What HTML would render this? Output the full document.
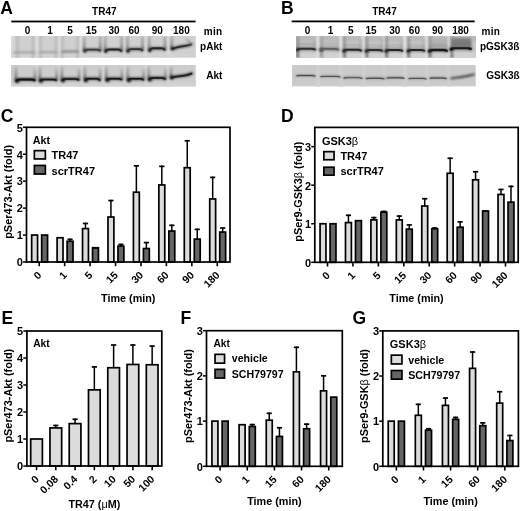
<!DOCTYPE html>
<html><head><meta charset="utf-8"><style>
html,body{margin:0;padding:0;background:#fff;}
svg{display:block;will-change:transform;}
text{font-family:"Liberation Sans", sans-serif;fill:#000;}
</style></head><body>
<svg width="520" height="511" viewBox="0 0 520 511">
<defs>
<filter id="b1" filterUnits="userSpaceOnUse" x="0" y="0" width="520" height="120"><feGaussianBlur stdDeviation="0.85"/></filter>
<filter id="b2" filterUnits="userSpaceOnUse" x="0" y="0" width="520" height="120"><feGaussianBlur stdDeviation="1.2"/></filter>
<linearGradient id="gw0" x1="0" y1="0" x2="0" y2="1"><stop offset="0" stop-color="#b4b4b4"/><stop offset="1" stop-color="#b4b4b4"/></linearGradient>
<linearGradient id="gw1" x1="0" y1="0" x2="0" y2="1"><stop offset="0" stop-color="#a8a8a8"/><stop offset="0.6" stop-color="#8a8a8a"/><stop offset="1" stop-color="#404040"/></linearGradient>
<linearGradient id="gw2" x1="0" y1="0" x2="0" y2="1"><stop offset="0" stop-color="#b8b8b8"/><stop offset="0.6" stop-color="#808080"/><stop offset="1" stop-color="#2a2a2a"/></linearGradient>
<linearGradient id="gw3" x1="0" y1="0" x2="0" y2="1"><stop offset="0" stop-color="#909090"/><stop offset="0.7" stop-color="#808080"/><stop offset="1" stop-color="#404040"/></linearGradient>
</defs>
<rect width="520" height="511" fill="#fff"/>
<text x="0.20" y="13.50" font-size="17.5" text-anchor="start" font-weight="bold" >A</text>
<text x="281.00" y="13.60" font-size="17.5" text-anchor="start" font-weight="bold" >B</text>
<text x="0.80" y="122.40" font-size="17.5" text-anchor="start" font-weight="bold" >C</text>
<text x="281.00" y="122.30" font-size="17.5" text-anchor="start" font-weight="bold" >D</text>
<text x="1.60" y="323.80" font-size="17.5" text-anchor="start" font-weight="bold" >E</text>
<text x="180.40" y="323.80" font-size="17.5" text-anchor="start" font-weight="bold" >F</text>
<text x="352.40" y="324.20" font-size="17.5" text-anchor="start" font-weight="bold" >G</text>
<rect x="11.3" y="20.6" width="184.3" height="1.8" fill="#000"/>
<text x="104.30" y="15.10" font-size="10" text-anchor="middle" font-weight="bold" >TR47</text>
<text x="27.60" y="34.30" font-size="10" text-anchor="middle" font-weight="bold" >0</text>
<text x="50.00" y="34.30" font-size="10" text-anchor="middle" font-weight="bold" >1</text>
<text x="70.00" y="34.30" font-size="10" text-anchor="middle" font-weight="bold" >5</text>
<text x="91.30" y="34.30" font-size="10" text-anchor="middle" font-weight="bold" >15</text>
<text x="114.00" y="34.30" font-size="10" text-anchor="middle" font-weight="bold" >30</text>
<text x="134.00" y="34.30" font-size="10" text-anchor="middle" font-weight="bold" >60</text>
<text x="157.20" y="34.30" font-size="10" text-anchor="middle" font-weight="bold" >90</text>
<text x="181.40" y="34.30" font-size="10" text-anchor="middle" font-weight="bold" >180</text>
<text x="203.80" y="34.90" font-size="10" text-anchor="start" font-weight="bold" letter-spacing="0.3">min</text>
<text x="222.30" y="49.70" font-size="10" text-anchor="end" font-weight="bold" >pAkt</text>
<text x="222.30" y="78.70" font-size="10" text-anchor="end" font-weight="bold" >Akt</text>
<rect x="291.7" y="20.5" width="183" height="1.8" fill="#000"/>
<text x="384.50" y="15.10" font-size="10" text-anchor="middle" font-weight="bold" >TR47</text>
<text x="307.50" y="34.20" font-size="10" text-anchor="middle" font-weight="bold" >0</text>
<text x="330.60" y="34.20" font-size="10" text-anchor="middle" font-weight="bold" >1</text>
<text x="350.80" y="34.20" font-size="10" text-anchor="middle" font-weight="bold" >5</text>
<text x="371.00" y="34.20" font-size="10" text-anchor="middle" font-weight="bold" >15</text>
<text x="394.80" y="34.20" font-size="10" text-anchor="middle" font-weight="bold" >30</text>
<text x="414.40" y="34.20" font-size="10" text-anchor="middle" font-weight="bold" >60</text>
<text x="437.50" y="34.20" font-size="10" text-anchor="middle" font-weight="bold" >90</text>
<text x="460.50" y="34.20" font-size="10" text-anchor="middle" font-weight="bold" >180</text>
<text x="481.60" y="34.60" font-size="10" text-anchor="start" font-weight="bold" letter-spacing="0.3">min</text>
<text x="479.90" y="50.20" font-size="10" text-anchor="start" font-weight="bold" >pGSK3&#223;</text>
<text x="486.30" y="79.00" font-size="10" text-anchor="start" font-weight="bold" >GSK3&#223;</text>
<svg x="11.3" y="36" width="184.70" height="21.6" overflow="hidden"><g transform="translate(-11.3,-36)">
<rect x="11.30" y="36.00" width="184.70" height="21.60" fill="#d0d0d0" />
<rect x="9.30" y="34.00" width="4.80" height="26.00" fill="#dadada" filter="url(#b1)" opacity="1.0"/>
<rect x="35.30" y="34.00" width="3.70" height="26.00" fill="#dedede" filter="url(#b1)" opacity="1.0"/>
<rect x="57.60" y="34.00" width="3.40" height="26.00" fill="#dedede" filter="url(#b1)" opacity="1.0"/>
<rect x="79.20" y="34.00" width="4.10" height="26.00" fill="#dedede" filter="url(#b1)" opacity="1.0"/>
<rect x="101.30" y="34.00" width="3.70" height="26.00" fill="#dedede" filter="url(#b1)" opacity="1.0"/>
<rect x="123.50" y="34.00" width="3.30" height="26.00" fill="#dedede" filter="url(#b1)" opacity="1.0"/>
<rect x="143.40" y="34.00" width="4.20" height="26.00" fill="#dedede" filter="url(#b1)" opacity="1.0"/>
<rect x="166.50" y="34.00" width="4.00" height="26.00" fill="#dedede" filter="url(#b1)" opacity="1.0"/>
<rect x="11.30" y="53.50" width="184.70" height="3.50" fill="#d4d4d4" filter="url(#b2)" opacity="0.7"/>
<rect x="16.50" y="34.00" width="2.00" height="26.00" fill="url(#gw0)" filter="url(#b2)" opacity="1.0"/>
<rect x="32.00" y="34.00" width="2.00" height="26.00" fill="url(#gw0)" filter="url(#b2)" opacity="1.0"/>
<rect x="39.50" y="34.00" width="2.00" height="26.00" fill="url(#gw0)" filter="url(#b2)" opacity="1.0"/>
<rect x="55.00" y="34.00" width="2.00" height="26.00" fill="url(#gw0)" filter="url(#b2)" opacity="1.0"/>
<rect x="61.50" y="34.00" width="2.00" height="26.00" fill="url(#gw0)" filter="url(#b2)" opacity="1.0"/>
<rect x="76.50" y="34.00" width="2.00" height="26.00" fill="url(#gw0)" filter="url(#b2)" opacity="1.0"/>
<path d="M14.00,52.60 C15.26,52.40 16.10,52.40 18.20,52.40 L30.80,52.40 C32.90,52.40 33.74,52.40 35.00,52.60" fill="none" stroke="#989898" stroke-width="1.8" stroke-linecap="round" filter="url(#b1)" opacity="1.0"/>
<path d="M39.50,52.40 C40.55,52.20 41.25,52.20 43.00,52.20 L53.50,52.20 C55.25,52.20 55.95,52.20 57.00,52.40" fill="none" stroke="#9c9c9c" stroke-width="1.8" stroke-linecap="round" filter="url(#b1)" opacity="1.0"/>
<path d="M62.00,51.80 C62.96,51.40 63.60,51.40 65.20,51.40 L74.80,51.40 C76.40,51.40 77.04,51.40 78.00,51.60" fill="none" stroke="#808080" stroke-width="2.0" stroke-linecap="round" filter="url(#b1)" opacity="1.0"/>
<rect x="83.10" y="36.00" width="2.20" height="15.00" fill="url(#gw1)" filter="url(#b1)" opacity="1.0"/>
<rect x="99.30" y="36.00" width="2.20" height="14.60" fill="url(#gw1)" filter="url(#b1)" opacity="1.0"/>
<path d="M84.60,51.00 C85.52,49.70 86.14,49.70 87.68,49.70 L96.92,49.70 C98.46,49.70 99.08,49.70 100.00,50.60" fill="none" stroke="#606060" stroke-width="3.0999999999999996" stroke-linecap="round" filter="url(#b1)" opacity="0.9"/>
<circle cx="84.90" cy="50.80" r="1.5" fill="#202020" filter="url(#b1)"/>
<path d="M84.60,51.00 C85.52,49.70 86.14,49.70 87.68,49.70 L96.92,49.70 C98.46,49.70 99.08,49.70 100.00,50.60" fill="none" stroke="#3c3c3c" stroke-width="1.805" stroke-linecap="round"  opacity="1.0"/>
<rect x="104.10" y="36.00" width="2.20" height="15.30" fill="url(#gw1)" filter="url(#b1)" opacity="1.0"/>
<rect x="120.50" y="36.00" width="2.20" height="15.00" fill="url(#gw1)" filter="url(#b1)" opacity="1.0"/>
<path d="M105.60,51.30 C106.54,49.50 107.16,49.50 108.72,49.50 L118.08,49.50 C119.64,49.50 120.26,49.50 121.20,51.00" fill="none" stroke="#606060" stroke-width="3.2" stroke-linecap="round" filter="url(#b1)" opacity="0.9"/>
<circle cx="105.90" cy="51.10" r="1.5" fill="#202020" filter="url(#b1)"/>
<path d="M105.60,51.30 C106.54,49.50 107.16,49.50 108.72,49.50 L118.08,49.50 C119.64,49.50 120.26,49.50 121.20,51.00" fill="none" stroke="#262626" stroke-width="1.9" stroke-linecap="round"  opacity="1.0"/>
<rect x="126.30" y="36.00" width="2.20" height="15.20" fill="url(#gw1)" filter="url(#b1)" opacity="1.0"/>
<rect x="141.50" y="36.00" width="2.20" height="14.20" fill="url(#gw1)" filter="url(#b1)" opacity="1.0"/>
<path d="M127.80,51.20 C128.66,49.10 129.24,49.10 130.68,49.10 L139.32,49.10 C140.76,49.10 141.34,49.10 142.20,50.20" fill="none" stroke="#606060" stroke-width="3.2" stroke-linecap="round" filter="url(#b1)" opacity="0.9"/>
<circle cx="128.10" cy="51.00" r="1.5" fill="#202020" filter="url(#b1)"/>
<path d="M127.80,51.20 C128.66,49.10 129.24,49.10 130.68,49.10 L139.32,49.10 C140.76,49.10 141.34,49.10 142.20,50.20" fill="none" stroke="#303030" stroke-width="1.9" stroke-linecap="round"  opacity="1.0"/>
<rect x="148.10" y="36.00" width="2.20" height="14.40" fill="url(#gw1)" filter="url(#b1)" opacity="1.0"/>
<rect x="163.90" y="36.00" width="2.20" height="13.60" fill="url(#gw1)" filter="url(#b1)" opacity="1.0"/>
<path d="M149.60,50.40 C150.50,48.30 151.10,48.30 152.60,48.30 L161.60,48.30 C163.10,48.30 163.70,48.30 164.60,49.60" fill="none" stroke="#606060" stroke-width="3.2" stroke-linecap="round" filter="url(#b1)" opacity="0.9"/>
<circle cx="149.90" cy="50.20" r="1.5" fill="#202020" filter="url(#b1)"/>
<path d="M149.60,50.40 C150.50,48.30 151.10,48.30 152.60,48.30 L161.60,48.30 C163.10,48.30 163.70,48.30 164.60,49.60" fill="none" stroke="#262626" stroke-width="1.9" stroke-linecap="round"  opacity="1.0"/>
<rect x="170.40" y="36.00" width="2.40" height="13.00" fill="url(#gw1)" filter="url(#b1)" opacity="1.0"/>
<path d="M172.2,48.8 C176,47.6 180,46.6 184.5,46.0 S189,45.2 191.2,44.3" fill="none" stroke="#505050" stroke-width="2.8" stroke-linecap="round" filter="url(#b1)"/>
<path d="M172.2,48.8 C176,47.6 180,46.6 184.5,46.0 S189,45.2 191.2,44.3" fill="none" stroke="#262626" stroke-width="1.6" stroke-linecap="round"/>
<circle cx="172.6" cy="48.6" r="1.6" fill="#202020" filter="url(#b1)"/>
<path d="M186.5,39.0 L191.0,44.0" fill="none" stroke="#8a8a8a" stroke-width="1.4" filter="url(#b1)"/>
</g></svg>
<svg x="11.3" y="64.8" width="184.70" height="21.4" overflow="hidden"><g transform="translate(-11.3,-64.8)">
<rect x="11.30" y="64.80" width="184.70" height="21.40" fill="#cdcdcd" />
<rect x="35.30" y="62.00" width="3.70" height="28.00" fill="#d8d8d8" filter="url(#b1)" opacity="1.0"/>
<rect x="57.60" y="62.00" width="3.40" height="28.00" fill="#d8d8d8" filter="url(#b1)" opacity="1.0"/>
<rect x="79.20" y="62.00" width="4.10" height="28.00" fill="#d8d8d8" filter="url(#b1)" opacity="1.0"/>
<rect x="101.30" y="62.00" width="3.70" height="28.00" fill="#d8d8d8" filter="url(#b1)" opacity="1.0"/>
<rect x="123.50" y="62.00" width="3.30" height="28.00" fill="#d8d8d8" filter="url(#b1)" opacity="1.0"/>
<rect x="143.40" y="62.00" width="4.20" height="28.00" fill="#d8d8d8" filter="url(#b1)" opacity="1.0"/>
<rect x="166.50" y="62.00" width="4.00" height="28.00" fill="#d8d8d8" filter="url(#b1)" opacity="1.0"/>
<rect x="11.30" y="82.00" width="184.70" height="4.50" fill="#d2d2d2" filter="url(#b2)" opacity="0.8"/>
<rect x="14.90" y="66.00" width="2.20" height="14.80" fill="url(#gw2)" filter="url(#b1)" opacity="1.0"/>
<rect x="34.00" y="68.00" width="2.00" height="12.20" fill="url(#gw2)" filter="url(#b1)" opacity="1.0"/>
<path d="M16.50,80.80 C17.58,79.40 18.30,79.40 20.10,79.40 L30.90,79.40 C32.70,79.40 33.42,79.40 34.50,80.20" fill="none" stroke="#555555" stroke-width="3.4000000000000004" stroke-linecap="round" filter="url(#b1)" opacity="0.95"/>
<circle cx="17.40" cy="81.00" r="1.9" fill="#101010" filter="url(#b1)"/>
<path d="M16.50,80.80 C17.58,79.40 18.30,79.40 20.10,79.40 L30.90,79.40 C32.70,79.40 33.42,79.40 34.50,80.20" fill="none" stroke="#101010" stroke-width="2.2" stroke-linecap="round"  opacity="1.0"/>
<rect x="38.70" y="66.00" width="2.20" height="14.60" fill="url(#gw2)" filter="url(#b1)" opacity="1.0"/>
<rect x="55.70" y="68.00" width="2.00" height="12.00" fill="url(#gw2)" filter="url(#b1)" opacity="1.0"/>
<path d="M40.30,80.60 C41.25,79.40 41.89,79.40 43.48,79.40 L53.02,79.40 C54.61,79.40 55.25,79.40 56.20,80.00" fill="none" stroke="#555555" stroke-width="3.0" stroke-linecap="round" filter="url(#b1)" opacity="0.95"/>
<circle cx="41.20" cy="80.80" r="1.9" fill="#101010" filter="url(#b1)"/>
<path d="M40.30,80.60 C41.25,79.40 41.89,79.40 43.48,79.40 L53.02,79.40 C54.61,79.40 55.25,79.40 56.20,80.00" fill="none" stroke="#101010" stroke-width="1.8" stroke-linecap="round"  opacity="1.0"/>
<rect x="60.70" y="66.00" width="2.20" height="14.20" fill="url(#gw2)" filter="url(#b1)" opacity="1.0"/>
<rect x="78.10" y="68.00" width="2.00" height="11.80" fill="url(#gw2)" filter="url(#b1)" opacity="1.0"/>
<path d="M62.30,80.20 C63.28,78.90 63.93,78.90 65.56,78.90 L75.34,78.90 C76.97,78.90 77.62,78.90 78.60,79.80" fill="none" stroke="#555555" stroke-width="3.0" stroke-linecap="round" filter="url(#b1)" opacity="0.95"/>
<circle cx="63.20" cy="80.40" r="1.9" fill="#101010" filter="url(#b1)"/>
<path d="M62.30,80.20 C63.28,78.90 63.93,78.90 65.56,78.90 L75.34,78.90 C76.97,78.90 77.62,78.90 78.60,79.80" fill="none" stroke="#101010" stroke-width="1.8" stroke-linecap="round"  opacity="1.0"/>
<rect x="83.70" y="66.00" width="2.20" height="14.00" fill="url(#gw2)" filter="url(#b1)" opacity="1.0"/>
<rect x="99.10" y="68.00" width="2.00" height="12.00" fill="url(#gw2)" filter="url(#b1)" opacity="1.0"/>
<path d="M85.30,80.00 C86.16,78.60 86.73,78.60 88.16,78.60 L96.74,78.60 C98.17,78.60 98.74,78.60 99.60,80.00" fill="none" stroke="#555555" stroke-width="3.0" stroke-linecap="round" filter="url(#b1)" opacity="0.95"/>
<circle cx="86.20" cy="80.20" r="1.9" fill="#101010" filter="url(#b1)"/>
<path d="M85.30,80.00 C86.16,78.60 86.73,78.60 88.16,78.60 L96.74,78.60 C98.17,78.60 98.74,78.60 99.60,80.00" fill="none" stroke="#101010" stroke-width="1.8" stroke-linecap="round"  opacity="1.0"/>
<rect x="105.20" y="66.00" width="2.20" height="13.90" fill="url(#gw2)" filter="url(#b1)" opacity="1.0"/>
<rect x="120.90" y="68.00" width="2.00" height="11.40" fill="url(#gw2)" filter="url(#b1)" opacity="1.0"/>
<path d="M106.80,79.90 C107.68,78.60 108.26,78.60 109.72,78.60 L118.48,78.60 C119.94,78.60 120.52,78.60 121.40,79.40" fill="none" stroke="#555555" stroke-width="3.0" stroke-linecap="round" filter="url(#b1)" opacity="0.95"/>
<circle cx="107.70" cy="80.10" r="1.9" fill="#101010" filter="url(#b1)"/>
<path d="M106.80,79.90 C107.68,78.60 108.26,78.60 109.72,78.60 L118.48,78.60 C119.94,78.60 120.52,78.60 121.40,79.40" fill="none" stroke="#101010" stroke-width="1.8" stroke-linecap="round"  opacity="1.0"/>
<rect x="126.60" y="66.00" width="2.20" height="14.00" fill="url(#gw2)" filter="url(#b1)" opacity="1.0"/>
<rect x="142.70" y="68.00" width="2.00" height="11.60" fill="url(#gw2)" filter="url(#b1)" opacity="1.0"/>
<path d="M128.20,80.00 C129.10,78.70 129.70,78.70 131.20,78.70 L140.20,78.70 C141.70,78.70 142.30,78.70 143.20,79.60" fill="none" stroke="#555555" stroke-width="3.0" stroke-linecap="round" filter="url(#b1)" opacity="0.95"/>
<circle cx="129.10" cy="80.20" r="1.9" fill="#101010" filter="url(#b1)"/>
<path d="M128.20,80.00 C129.10,78.70 129.70,78.70 131.20,78.70 L140.20,78.70 C141.70,78.70 142.30,78.70 143.20,79.60" fill="none" stroke="#101010" stroke-width="1.8" stroke-linecap="round"  opacity="1.0"/>
<rect x="147.60" y="66.00" width="2.20" height="13.30" fill="url(#gw2)" filter="url(#b1)" opacity="1.0"/>
<rect x="164.50" y="68.00" width="2.00" height="10.90" fill="url(#gw2)" filter="url(#b1)" opacity="1.0"/>
<path d="M149.20,79.30 C150.15,77.90 150.78,77.90 152.36,77.90 L161.84,77.90 C163.42,77.90 164.05,77.90 165.00,78.90" fill="none" stroke="#555555" stroke-width="3.0" stroke-linecap="round" filter="url(#b1)" opacity="0.95"/>
<circle cx="150.10" cy="79.50" r="1.9" fill="#101010" filter="url(#b1)"/>
<path d="M149.20,79.30 C150.15,77.90 150.78,77.90 152.36,77.90 L161.84,77.90 C163.42,77.90 164.05,77.90 165.00,78.90" fill="none" stroke="#101010" stroke-width="1.8" stroke-linecap="round"  opacity="1.0"/>
<rect x="169.90" y="66.00" width="2.20" height="11.50" fill="url(#gw2)" filter="url(#b1)" opacity="1.0"/>
<path d="M171.2,77.6 C176,76.4 181,76.0 185,75.4 S189.5,74.2 191.6,73.4" fill="none" stroke="#555" stroke-width="3.0" stroke-linecap="round" filter="url(#b1)"/>
<path d="M171.2,77.6 C176,76.4 181,76.0 185,75.4 S189.5,74.2 191.6,73.4" fill="none" stroke="#181818" stroke-width="1.8" stroke-linecap="round"/>
<circle cx="171.8" cy="77.6" r="1.7" fill="#141414" filter="url(#b1)"/>
</g></svg>
<svg x="295.8" y="36" width="180.00" height="21.6" overflow="hidden"><g transform="translate(-295.8,-36)">
<rect x="295.80" y="36.00" width="180.00" height="21.60" fill="#c8c8c8" />
<rect x="295.80" y="35.00" width="180.00" height="6.50" fill="#bababa" filter="url(#b2)" opacity="1.0"/>
<rect x="295.80" y="52.50" width="180.00" height="7.00" fill="#d2d2d2" filter="url(#b2)" opacity="1.0"/>
<rect x="316.20" y="34.00" width="3.70" height="26.00" fill="#e2e2e2" filter="url(#b1)" opacity="1.0"/>
<rect x="339.10" y="34.00" width="3.70" height="26.00" fill="#e2e2e2" filter="url(#b1)" opacity="1.0"/>
<rect x="362.00" y="34.00" width="3.00" height="26.00" fill="#e2e2e2" filter="url(#b1)" opacity="1.0"/>
<rect x="383.20" y="34.00" width="1.80" height="26.00" fill="#e2e2e2" filter="url(#b1)" opacity="1.0"/>
<rect x="403.00" y="34.00" width="4.00" height="26.00" fill="#e2e2e2" filter="url(#b1)" opacity="1.0"/>
<rect x="425.00" y="34.00" width="3.30" height="26.00" fill="#e2e2e2" filter="url(#b1)" opacity="1.0"/>
<rect x="447.60" y="34.00" width="2.40" height="26.00" fill="#e2e2e2" filter="url(#b1)" opacity="1.0"/>
<path d="M297.50,44.40 C298.52,44.20 299.20,44.20 300.90,44.20 L311.10,44.20 C312.80,44.20 313.48,44.20 314.50,44.40" fill="none" stroke="#909090" stroke-width="1.6" stroke-linecap="round" filter="url(#b1)" opacity="0.9"/>
<rect x="296.50" y="36.00" width="2.40" height="21.50" fill="url(#gw3)" filter="url(#b1)" opacity="0.9"/>
<rect x="313.90" y="40.00" width="1.60" height="9.20" fill="url(#gw3)" filter="url(#b1)" opacity="0.5"/>
<path d="M297.00,50.00 C298.08,48.70 298.80,48.70 300.60,48.70 L311.40,48.70 C313.20,48.70 313.92,48.70 315.00,49.50" fill="none" stroke="#707070" stroke-width="3.6" stroke-linecap="round" filter="url(#b1)" opacity="0.8"/>
<circle cx="297.70" cy="49.60" r="1.7" fill="#1c1c1c" filter="url(#b1)"/>
<path d="M297.00,50.00 C298.08,48.70 298.80,48.70 300.60,48.70 L311.40,48.70 C313.20,48.70 313.92,48.70 315.00,49.50" fill="none" stroke="#303030" stroke-width="1.9800000000000002" stroke-linecap="round"  opacity="1.0"/>
<path d="M321.20,44.50 C322.18,44.30 322.84,44.30 324.48,44.30 L334.32,44.30 C335.96,44.30 336.62,44.30 337.60,44.50" fill="none" stroke="#a0a0a0" stroke-width="1.6" stroke-linecap="round" filter="url(#b1)" opacity="0.9"/>
<rect x="320.20" y="36.00" width="2.40" height="21.50" fill="url(#gw3)" filter="url(#b1)" opacity="0.63"/>
<rect x="337.00" y="40.00" width="1.60" height="9.30" fill="url(#gw3)" filter="url(#b1)" opacity="0.35"/>
<path d="M320.70,50.10 C321.74,48.80 322.44,48.80 324.18,48.80 L334.62,48.80 C336.36,48.80 337.06,48.80 338.10,49.60" fill="none" stroke="#707070" stroke-width="3.4" stroke-linecap="round" filter="url(#b1)" opacity="0.8"/>
<circle cx="321.40" cy="49.70" r="1.7" fill="#1c1c1c" filter="url(#b1)"/>
<path d="M320.70,50.10 C321.74,48.80 322.44,48.80 324.18,48.80 L334.62,48.80 C336.36,48.80 337.06,48.80 338.10,49.60" fill="none" stroke="#606060" stroke-width="1.8" stroke-linecap="round"  opacity="1.0"/>
<path d="M344.20,45.50 C345.18,45.30 345.84,45.30 347.48,45.30 L357.32,45.30 C358.96,45.30 359.62,45.30 360.60,45.50" fill="none" stroke="#9a9a9a" stroke-width="1.6" stroke-linecap="round" filter="url(#b1)" opacity="0.9"/>
<rect x="343.20" y="36.00" width="2.40" height="21.50" fill="url(#gw3)" filter="url(#b1)" opacity="0.9"/>
<rect x="360.00" y="40.00" width="1.60" height="10.30" fill="url(#gw3)" filter="url(#b1)" opacity="0.5"/>
<path d="M343.70,51.10 C344.74,49.80 345.44,49.80 347.18,49.80 L357.62,49.80 C359.36,49.80 360.06,49.80 361.10,50.60" fill="none" stroke="#707070" stroke-width="3.6" stroke-linecap="round" filter="url(#b1)" opacity="0.8"/>
<circle cx="344.40" cy="50.70" r="1.7" fill="#1c1c1c" filter="url(#b1)"/>
<path d="M343.70,51.10 C344.74,49.80 345.44,49.80 347.18,49.80 L357.62,49.80 C359.36,49.80 360.06,49.80 361.10,50.60" fill="none" stroke="#2a2a2a" stroke-width="1.9800000000000002" stroke-linecap="round"  opacity="1.0"/>
<path d="M366.60,45.70 C367.50,45.50 368.10,45.50 369.60,45.50 L378.60,45.50 C380.10,45.50 380.70,45.50 381.60,45.70" fill="none" stroke="#9a9a9a" stroke-width="1.6" stroke-linecap="round" filter="url(#b1)" opacity="0.9"/>
<rect x="365.60" y="36.00" width="2.40" height="21.50" fill="url(#gw3)" filter="url(#b1)" opacity="0.9"/>
<rect x="381.00" y="40.00" width="1.60" height="10.50" fill="url(#gw3)" filter="url(#b1)" opacity="0.5"/>
<path d="M366.10,51.30 C367.06,50.00 367.70,50.00 369.30,50.00 L378.90,50.00 C380.50,50.00 381.14,50.00 382.10,50.80" fill="none" stroke="#707070" stroke-width="3.6" stroke-linecap="round" filter="url(#b1)" opacity="0.8"/>
<circle cx="366.80" cy="50.90" r="1.7" fill="#1c1c1c" filter="url(#b1)"/>
<path d="M366.10,51.30 C367.06,50.00 367.70,50.00 369.30,50.00 L378.90,50.00 C380.50,50.00 381.14,50.00 382.10,50.80" fill="none" stroke="#2e2e2e" stroke-width="1.9800000000000002" stroke-linecap="round"  opacity="1.0"/>
<path d="M386.40,45.70 C387.31,45.50 387.92,45.50 389.44,45.50 L398.56,45.50 C400.08,45.50 400.69,45.50 401.60,45.70" fill="none" stroke="#9a9a9a" stroke-width="1.6" stroke-linecap="round" filter="url(#b1)" opacity="0.9"/>
<rect x="385.40" y="36.00" width="2.40" height="21.50" fill="url(#gw3)" filter="url(#b1)" opacity="0.9"/>
<rect x="401.00" y="40.00" width="1.60" height="10.50" fill="url(#gw3)" filter="url(#b1)" opacity="0.5"/>
<path d="M385.90,51.30 C386.87,50.00 387.52,50.00 389.14,50.00 L398.86,50.00 C400.48,50.00 401.13,50.00 402.10,50.80" fill="none" stroke="#707070" stroke-width="3.6" stroke-linecap="round" filter="url(#b1)" opacity="0.8"/>
<circle cx="386.60" cy="50.90" r="1.7" fill="#1c1c1c" filter="url(#b1)"/>
<path d="M385.90,51.30 C386.87,50.00 387.52,50.00 389.14,50.00 L398.86,50.00 C400.48,50.00 401.13,50.00 402.10,50.80" fill="none" stroke="#262626" stroke-width="1.9800000000000002" stroke-linecap="round"  opacity="1.0"/>
<path d="M408.40,45.70 C409.31,45.50 409.92,45.50 411.44,45.50 L420.56,45.50 C422.08,45.50 422.69,45.50 423.60,45.70" fill="none" stroke="#9a9a9a" stroke-width="1.6" stroke-linecap="round" filter="url(#b1)" opacity="0.9"/>
<rect x="407.40" y="36.00" width="2.40" height="21.50" fill="url(#gw3)" filter="url(#b1)" opacity="0.9"/>
<rect x="423.00" y="40.00" width="1.60" height="10.50" fill="url(#gw3)" filter="url(#b1)" opacity="0.5"/>
<path d="M407.90,51.30 C408.87,50.00 409.52,50.00 411.14,50.00 L420.86,50.00 C422.48,50.00 423.13,50.00 424.10,50.80" fill="none" stroke="#707070" stroke-width="3.6" stroke-linecap="round" filter="url(#b1)" opacity="0.8"/>
<circle cx="408.60" cy="50.90" r="1.7" fill="#1c1c1c" filter="url(#b1)"/>
<path d="M407.90,51.30 C408.87,50.00 409.52,50.00 411.14,50.00 L420.86,50.00 C422.48,50.00 423.13,50.00 424.10,50.80" fill="none" stroke="#262626" stroke-width="1.9800000000000002" stroke-linecap="round"  opacity="1.0"/>
<path d="M429.80,45.70 C430.78,45.50 431.44,45.50 433.08,45.50 L442.92,45.50 C444.56,45.50 445.22,45.50 446.20,45.70" fill="none" stroke="#6a6a6a" stroke-width="1.6" stroke-linecap="round" filter="url(#b1)" opacity="0.9"/>
<rect x="428.80" y="36.00" width="2.40" height="21.50" fill="url(#gw3)" filter="url(#b1)" opacity="0.9"/>
<rect x="445.60" y="40.00" width="1.60" height="10.50" fill="url(#gw3)" filter="url(#b1)" opacity="0.5"/>
<path d="M429.30,51.30 C430.34,50.00 431.04,50.00 432.78,50.00 L443.22,50.00 C444.96,50.00 445.66,50.00 446.70,50.80" fill="none" stroke="#707070" stroke-width="4.0" stroke-linecap="round" filter="url(#b1)" opacity="0.8"/>
<circle cx="430.00" cy="50.90" r="1.7" fill="#1c1c1c" filter="url(#b1)"/>
<path d="M429.30,51.30 C430.34,50.00 431.04,50.00 432.78,50.00 L443.22,50.00 C444.96,50.00 445.66,50.00 446.70,50.80" fill="none" stroke="#1a1a1a" stroke-width="2.3400000000000003" stroke-linecap="round"  opacity="1.0"/>
<path d="M451.60,43.70 C452.70,43.50 453.44,43.50 455.28,43.50 L466.32,43.50 C468.16,43.50 468.90,43.50 470.00,43.70" fill="none" stroke="#4a4a4a" stroke-width="1.6" stroke-linecap="round" filter="url(#b1)" opacity="0.9"/>
<rect x="450.60" y="36.00" width="2.40" height="21.50" fill="url(#gw3)" filter="url(#b1)" opacity="0.9"/>
<rect x="469.40" y="40.00" width="1.60" height="8.50" fill="url(#gw3)" filter="url(#b1)" opacity="0.5"/>
<path d="M451.10,49.30 C452.26,48.00 453.04,48.00 454.98,48.00 L466.62,48.00 C468.56,48.00 469.34,48.00 470.50,48.80" fill="none" stroke="#707070" stroke-width="4.4" stroke-linecap="round" filter="url(#b1)" opacity="0.8"/>
<circle cx="451.80" cy="48.90" r="1.7" fill="#1c1c1c" filter="url(#b1)"/>
<path d="M451.10,49.30 C452.26,48.00 453.04,48.00 454.98,48.00 L466.62,48.00 C468.56,48.00 469.34,48.00 470.50,48.80" fill="none" stroke="#121212" stroke-width="2.7" stroke-linecap="round"  opacity="1.0"/>
<rect x="452.00" y="38.00" width="19.00" height="9.00" fill="#707070" filter="url(#b2)" opacity="0.8"/>
<rect x="430.00" y="40.00" width="16.00" height="7.00" fill="#a4a4a4" filter="url(#b2)" opacity="0.6"/>
</g></svg>
<svg x="291.6" y="64.8" width="184.20" height="21.4" overflow="hidden"><g transform="translate(-291.6,-64.8)">
<rect x="291.60" y="64.80" width="184.20" height="21.40" fill="#cacaca" />
<rect x="316.20" y="62.00" width="3.70" height="28.00" fill="#d2d2d2" filter="url(#b2)" opacity="1.0"/>
<rect x="339.10" y="62.00" width="3.70" height="28.00" fill="#d2d2d2" filter="url(#b2)" opacity="1.0"/>
<rect x="362.00" y="62.00" width="3.00" height="28.00" fill="#d2d2d2" filter="url(#b2)" opacity="1.0"/>
<rect x="383.20" y="62.00" width="1.80" height="28.00" fill="#d2d2d2" filter="url(#b2)" opacity="1.0"/>
<rect x="403.00" y="62.00" width="4.00" height="28.00" fill="#d2d2d2" filter="url(#b2)" opacity="1.0"/>
<rect x="425.00" y="62.00" width="3.30" height="28.00" fill="#d2d2d2" filter="url(#b2)" opacity="1.0"/>
<rect x="447.60" y="62.00" width="2.40" height="28.00" fill="#d2d2d2" filter="url(#b2)" opacity="1.0"/>
<path d="M296.70,75.70 C297.80,75.40 298.53,75.40 300.36,75.40 L311.34,75.40 C313.17,75.40 313.90,75.40 315.00,76.00" fill="none" stroke="#8a8a8a" stroke-width="1.9" stroke-linecap="round" filter="url(#b1)" opacity="0.8"/>
<path d="M296.70,75.70 C297.80,75.40 298.53,75.40 300.36,75.40 L311.34,75.40 C313.17,75.40 313.90,75.40 315.00,76.00" fill="none" stroke="#3a3a3a" stroke-width="1.1" stroke-linecap="round"  opacity="1.0"/>
<path d="M320.70,76.60 C321.86,76.30 322.63,76.30 324.56,76.30 L336.14,76.30 C338.07,76.30 338.84,76.30 340.00,76.90" fill="none" stroke="#8a8a8a" stroke-width="1.9" stroke-linecap="round" filter="url(#b1)" opacity="0.8"/>
<path d="M320.70,76.60 C321.86,76.30 322.63,76.30 324.56,76.30 L336.14,76.30 C338.07,76.30 338.84,76.30 340.00,76.90" fill="none" stroke="#3a3a3a" stroke-width="1.1" stroke-linecap="round"  opacity="1.0"/>
<path d="M343.80,77.90 C344.89,77.60 345.62,77.60 347.44,77.60 L358.36,77.60 C360.18,77.60 360.91,77.60 362.00,78.20" fill="none" stroke="#8a8a8a" stroke-width="1.9" stroke-linecap="round" filter="url(#b1)" opacity="0.8"/>
<path d="M343.80,77.90 C344.89,77.60 345.62,77.60 347.44,77.60 L358.36,77.60 C360.18,77.60 360.91,77.60 362.00,78.20" fill="none" stroke="#3a3a3a" stroke-width="1.1" stroke-linecap="round"  opacity="1.0"/>
<path d="M366.00,78.50 C367.08,78.20 367.80,78.20 369.60,78.20 L380.40,78.20 C382.20,78.20 382.92,78.20 384.00,78.80" fill="none" stroke="#8a8a8a" stroke-width="1.9" stroke-linecap="round" filter="url(#b1)" opacity="0.8"/>
<path d="M366.00,78.50 C367.08,78.20 367.80,78.20 369.60,78.20 L380.40,78.20 C382.20,78.20 382.92,78.20 384.00,78.80" fill="none" stroke="#3a3a3a" stroke-width="1.1" stroke-linecap="round"  opacity="1.0"/>
<path d="M386.70,78.00 C387.74,77.70 388.43,77.70 390.16,77.70 L400.54,77.70 C402.27,77.70 402.96,77.70 404.00,78.30" fill="none" stroke="#8a8a8a" stroke-width="1.9" stroke-linecap="round" filter="url(#b1)" opacity="0.8"/>
<path d="M386.70,78.00 C387.74,77.70 388.43,77.70 390.16,77.70 L400.54,77.70 C402.27,77.70 402.96,77.70 404.00,78.30" fill="none" stroke="#3a3a3a" stroke-width="1.1" stroke-linecap="round"  opacity="1.0"/>
<path d="M408.80,78.60 C409.83,78.30 410.52,78.30 412.24,78.30 L422.56,78.30 C424.28,78.30 424.97,78.30 426.00,78.90" fill="none" stroke="#8a8a8a" stroke-width="1.9" stroke-linecap="round" filter="url(#b1)" opacity="0.8"/>
<path d="M408.80,78.60 C409.83,78.30 410.52,78.30 412.24,78.30 L422.56,78.30 C424.28,78.30 424.97,78.30 426.00,78.90" fill="none" stroke="#3a3a3a" stroke-width="1.1" stroke-linecap="round"  opacity="1.0"/>
<path d="M430.00,78.20 C430.98,77.90 431.63,77.90 433.26,77.90 L443.04,77.90 C444.67,77.90 445.32,77.90 446.30,78.50" fill="none" stroke="#8a8a8a" stroke-width="1.9" stroke-linecap="round" filter="url(#b1)" opacity="0.8"/>
<path d="M430.00,78.20 C430.98,77.90 431.63,77.90 433.26,77.90 L443.04,77.90 C444.67,77.90 445.32,77.90 446.30,78.50" fill="none" stroke="#3a3a3a" stroke-width="1.1" stroke-linecap="round"  opacity="1.0"/>
<path d="M451,78.3 C458,77.8 464,76.8 470,75.4 S473,74.6 474,74.4" fill="none" stroke="#222" stroke-width="1.7" stroke-linecap="round" filter="url(#b1)"/>
</g></svg>
<rect x="31.67" y="235.06" width="5.90" height="26.94" fill="#dcdcdc" stroke="#000" stroke-width="1.7"/>
<rect x="57.11" y="237.75" width="5.90" height="24.25" fill="#dcdcdc" stroke="#000" stroke-width="1.7"/>
<rect x="82.54" y="228.59" width="5.90" height="33.41" fill="#dcdcdc" stroke="#000" stroke-width="1.7"/>
<line x1="85.49" y1="228.59" x2="85.49" y2="222.67" stroke="#000" stroke-width="1.5"/>
<line x1="82.89" y1="223.47" x2="88.09" y2="223.47" stroke="#000" stroke-width="1.7"/>
<rect x="107.98" y="217.01" width="5.90" height="44.99" fill="#dcdcdc" stroke="#000" stroke-width="1.7"/>
<line x1="110.93" y1="217.01" x2="110.93" y2="199.77" stroke="#000" stroke-width="1.5"/>
<line x1="108.33" y1="200.57" x2="113.53" y2="200.57" stroke="#000" stroke-width="1.7"/>
<rect x="133.42" y="192.23" width="5.90" height="69.77" fill="#dcdcdc" stroke="#000" stroke-width="1.7"/>
<line x1="136.37" y1="192.23" x2="136.37" y2="165.02" stroke="#000" stroke-width="1.5"/>
<line x1="133.77" y1="165.82" x2="138.97" y2="165.82" stroke="#000" stroke-width="1.7"/>
<rect x="158.86" y="184.95" width="5.90" height="77.05" fill="#dcdcdc" stroke="#000" stroke-width="1.7"/>
<line x1="161.81" y1="184.95" x2="161.81" y2="165.55" stroke="#000" stroke-width="1.5"/>
<line x1="159.21" y1="166.35" x2="164.41" y2="166.35" stroke="#000" stroke-width="1.7"/>
<rect x="184.29" y="167.71" width="5.90" height="94.29" fill="#dcdcdc" stroke="#000" stroke-width="1.7"/>
<line x1="187.24" y1="167.71" x2="187.24" y2="139.96" stroke="#000" stroke-width="1.5"/>
<line x1="184.64" y1="140.76" x2="189.84" y2="140.76" stroke="#000" stroke-width="1.7"/>
<rect x="209.73" y="198.96" width="5.90" height="63.04" fill="#dcdcdc" stroke="#000" stroke-width="1.7"/>
<line x1="212.68" y1="198.96" x2="212.68" y2="176.60" stroke="#000" stroke-width="1.5"/>
<line x1="210.08" y1="177.40" x2="215.28" y2="177.40" stroke="#000" stroke-width="1.7"/>
<rect x="41.67" y="235.06" width="5.90" height="26.94" fill="#666666" stroke="#000" stroke-width="1.7"/>
<rect x="67.11" y="241.26" width="5.90" height="20.74" fill="#666666" stroke="#000" stroke-width="1.7"/>
<line x1="70.06" y1="241.26" x2="70.06" y2="238.56" stroke="#000" stroke-width="1.5"/>
<line x1="67.46" y1="239.36" x2="72.66" y2="239.36" stroke="#000" stroke-width="1.7"/>
<rect x="92.54" y="247.72" width="5.90" height="14.28" fill="#666666" stroke="#000" stroke-width="1.7"/>
<line x1="95.49" y1="247.72" x2="95.49" y2="247.18" stroke="#000" stroke-width="1.5"/>
<line x1="92.89" y1="247.98" x2="98.09" y2="247.98" stroke="#000" stroke-width="1.7"/>
<rect x="117.98" y="246.11" width="5.90" height="15.89" fill="#666666" stroke="#000" stroke-width="1.7"/>
<line x1="120.93" y1="246.11" x2="120.93" y2="243.68" stroke="#000" stroke-width="1.5"/>
<line x1="118.33" y1="244.48" x2="123.53" y2="244.48" stroke="#000" stroke-width="1.7"/>
<rect x="143.42" y="248.53" width="5.90" height="13.47" fill="#666666" stroke="#000" stroke-width="1.7"/>
<line x1="146.37" y1="248.53" x2="146.37" y2="241.80" stroke="#000" stroke-width="1.5"/>
<line x1="143.77" y1="242.60" x2="148.97" y2="242.60" stroke="#000" stroke-width="1.7"/>
<rect x="168.86" y="231.02" width="5.90" height="30.98" fill="#666666" stroke="#000" stroke-width="1.7"/>
<line x1="171.81" y1="231.02" x2="171.81" y2="224.55" stroke="#000" stroke-width="1.5"/>
<line x1="169.21" y1="225.35" x2="174.41" y2="225.35" stroke="#000" stroke-width="1.7"/>
<rect x="194.29" y="239.10" width="5.90" height="22.90" fill="#666666" stroke="#000" stroke-width="1.7"/>
<line x1="197.24" y1="239.10" x2="197.24" y2="228.59" stroke="#000" stroke-width="1.5"/>
<line x1="194.64" y1="229.39" x2="199.84" y2="229.39" stroke="#000" stroke-width="1.7"/>
<rect x="219.73" y="232.10" width="5.90" height="29.90" fill="#666666" stroke="#000" stroke-width="1.7"/>
<line x1="222.68" y1="232.10" x2="222.68" y2="227.25" stroke="#000" stroke-width="1.5"/>
<line x1="220.08" y1="228.05" x2="225.28" y2="228.05" stroke="#000" stroke-width="1.7"/>
<rect x="26.50" y="127.30" width="203.50" height="134.70" fill="none" stroke="#000" stroke-width="1.7"/>
<line x1="22.90" y1="262.00" x2="26.50" y2="262.00" stroke="#000" stroke-width="1.5"/>
<text x="22.80" y="266.30" font-size="11" text-anchor="end" font-weight="bold" >0</text>
<line x1="22.90" y1="235.06" x2="26.50" y2="235.06" stroke="#000" stroke-width="1.5"/>
<text x="22.80" y="239.36" font-size="11" text-anchor="end" font-weight="bold" >1</text>
<line x1="22.90" y1="208.12" x2="26.50" y2="208.12" stroke="#000" stroke-width="1.5"/>
<text x="22.80" y="212.42" font-size="11" text-anchor="end" font-weight="bold" >2</text>
<line x1="22.90" y1="181.18" x2="26.50" y2="181.18" stroke="#000" stroke-width="1.5"/>
<text x="22.80" y="185.48" font-size="11" text-anchor="end" font-weight="bold" >3</text>
<line x1="22.90" y1="154.24" x2="26.50" y2="154.24" stroke="#000" stroke-width="1.5"/>
<text x="22.80" y="158.54" font-size="11" text-anchor="end" font-weight="bold" >4</text>
<line x1="22.90" y1="127.30" x2="26.50" y2="127.30" stroke="#000" stroke-width="1.5"/>
<text x="22.80" y="131.60" font-size="11" text-anchor="end" font-weight="bold" >5</text>
<line x1="39.22" y1="262.00" x2="39.22" y2="266.20" stroke="#000" stroke-width="1.6"/>
<text transform="translate(42.22,275.80) rotate(-45)" font-size="10.5" font-weight="bold" text-anchor="end">0</text>
<line x1="64.66" y1="262.00" x2="64.66" y2="266.20" stroke="#000" stroke-width="1.6"/>
<text transform="translate(67.66,275.80) rotate(-45)" font-size="10.5" font-weight="bold" text-anchor="end">1</text>
<line x1="90.09" y1="262.00" x2="90.09" y2="266.20" stroke="#000" stroke-width="1.6"/>
<text transform="translate(93.09,275.80) rotate(-45)" font-size="10.5" font-weight="bold" text-anchor="end">5</text>
<line x1="115.53" y1="262.00" x2="115.53" y2="266.20" stroke="#000" stroke-width="1.6"/>
<text transform="translate(118.53,275.80) rotate(-45)" font-size="10.5" font-weight="bold" text-anchor="end">15</text>
<line x1="140.97" y1="262.00" x2="140.97" y2="266.20" stroke="#000" stroke-width="1.6"/>
<text transform="translate(143.97,275.80) rotate(-45)" font-size="10.5" font-weight="bold" text-anchor="end">30</text>
<line x1="166.41" y1="262.00" x2="166.41" y2="266.20" stroke="#000" stroke-width="1.6"/>
<text transform="translate(169.41,275.80) rotate(-45)" font-size="10.5" font-weight="bold" text-anchor="end">60</text>
<line x1="191.84" y1="262.00" x2="191.84" y2="266.20" stroke="#000" stroke-width="1.6"/>
<text transform="translate(194.84,275.80) rotate(-45)" font-size="10.5" font-weight="bold" text-anchor="end">90</text>
<line x1="217.28" y1="262.00" x2="217.28" y2="266.20" stroke="#000" stroke-width="1.6"/>
<text transform="translate(220.28,275.80) rotate(-45)" font-size="10.5" font-weight="bold" text-anchor="end">180</text>
<text x="128.25" y="301.60" font-size="10.8" text-anchor="middle" font-weight="bold" >Time (min)</text>
<text transform="translate(12.20,191.90) rotate(-90)" font-size="10.9" font-weight="bold" text-anchor="middle">pSer473-Akt (fold)</text>
<text x="32.85" y="143.80" font-size="10.7" text-anchor="start" font-weight="bold" >Akt</text>
<rect x="34.35" y="150.65" width="11.00" height="8.30" fill="#dcdcdc" stroke="#000" stroke-width="1.7"/>
<rect x="34.35" y="165.45" width="11.00" height="8.60" fill="#666666" stroke="#000" stroke-width="1.7"/>
<text x="51.60" y="159.20" font-size="11" text-anchor="start" font-weight="bold" >TR47</text>
<text x="51.60" y="174.70" font-size="11" text-anchor="start" font-weight="bold" >scrTR47</text>
<rect x="320.06" y="223.76" width="5.90" height="38.54" fill="#dcdcdc" stroke="#000" stroke-width="1.7"/>
<rect x="345.49" y="222.60" width="5.90" height="39.70" fill="#dcdcdc" stroke="#000" stroke-width="1.7"/>
<line x1="348.44" y1="222.60" x2="348.44" y2="214.51" stroke="#000" stroke-width="1.5"/>
<line x1="345.84" y1="215.31" x2="351.04" y2="215.31" stroke="#000" stroke-width="1.7"/>
<rect x="370.91" y="219.90" width="5.90" height="42.40" fill="#dcdcdc" stroke="#000" stroke-width="1.7"/>
<line x1="373.86" y1="219.90" x2="373.86" y2="216.82" stroke="#000" stroke-width="1.5"/>
<line x1="371.26" y1="217.62" x2="376.46" y2="217.62" stroke="#000" stroke-width="1.7"/>
<rect x="396.34" y="219.90" width="5.90" height="42.40" fill="#dcdcdc" stroke="#000" stroke-width="1.7"/>
<line x1="399.29" y1="219.90" x2="399.29" y2="215.28" stroke="#000" stroke-width="1.5"/>
<line x1="396.69" y1="216.08" x2="401.89" y2="216.08" stroke="#000" stroke-width="1.7"/>
<rect x="421.76" y="206.03" width="5.90" height="56.27" fill="#dcdcdc" stroke="#000" stroke-width="1.7"/>
<line x1="424.71" y1="206.03" x2="424.71" y2="197.93" stroke="#000" stroke-width="1.5"/>
<line x1="422.11" y1="198.73" x2="427.31" y2="198.73" stroke="#000" stroke-width="1.7"/>
<rect x="447.19" y="173.27" width="5.90" height="89.03" fill="#dcdcdc" stroke="#000" stroke-width="1.7"/>
<line x1="450.14" y1="173.27" x2="450.14" y2="157.46" stroke="#000" stroke-width="1.5"/>
<line x1="447.54" y1="158.26" x2="452.74" y2="158.26" stroke="#000" stroke-width="1.7"/>
<rect x="472.61" y="179.82" width="5.90" height="82.48" fill="#dcdcdc" stroke="#000" stroke-width="1.7"/>
<line x1="475.56" y1="179.82" x2="475.56" y2="170.95" stroke="#000" stroke-width="1.5"/>
<line x1="472.96" y1="171.75" x2="478.16" y2="171.75" stroke="#000" stroke-width="1.7"/>
<rect x="498.04" y="194.46" width="5.90" height="67.84" fill="#dcdcdc" stroke="#000" stroke-width="1.7"/>
<line x1="500.99" y1="194.46" x2="500.99" y2="188.68" stroke="#000" stroke-width="1.5"/>
<line x1="498.39" y1="189.48" x2="503.59" y2="189.48" stroke="#000" stroke-width="1.7"/>
<rect x="330.06" y="223.76" width="5.90" height="38.54" fill="#666666" stroke="#000" stroke-width="1.7"/>
<rect x="355.49" y="220.67" width="5.90" height="41.63" fill="#666666" stroke="#000" stroke-width="1.7"/>
<rect x="380.91" y="212.19" width="5.90" height="50.11" fill="#666666" stroke="#000" stroke-width="1.7"/>
<line x1="383.86" y1="212.19" x2="383.86" y2="210.65" stroke="#000" stroke-width="1.5"/>
<line x1="381.26" y1="211.45" x2="386.46" y2="211.45" stroke="#000" stroke-width="1.7"/>
<rect x="406.34" y="229.15" width="5.90" height="33.15" fill="#666666" stroke="#000" stroke-width="1.7"/>
<line x1="409.29" y1="229.15" x2="409.29" y2="224.14" stroke="#000" stroke-width="1.5"/>
<line x1="406.69" y1="224.94" x2="411.89" y2="224.94" stroke="#000" stroke-width="1.7"/>
<rect x="431.76" y="228.77" width="5.90" height="33.53" fill="#666666" stroke="#000" stroke-width="1.7"/>
<line x1="434.71" y1="228.77" x2="434.71" y2="227.23" stroke="#000" stroke-width="1.5"/>
<line x1="432.11" y1="228.03" x2="437.31" y2="228.03" stroke="#000" stroke-width="1.7"/>
<rect x="457.19" y="227.23" width="5.90" height="35.07" fill="#666666" stroke="#000" stroke-width="1.7"/>
<line x1="460.14" y1="227.23" x2="460.14" y2="221.06" stroke="#000" stroke-width="1.5"/>
<line x1="457.54" y1="221.86" x2="462.74" y2="221.86" stroke="#000" stroke-width="1.7"/>
<rect x="482.61" y="211.04" width="5.90" height="51.26" fill="#666666" stroke="#000" stroke-width="1.7"/>
<line x1="485.56" y1="211.04" x2="485.56" y2="210.27" stroke="#000" stroke-width="1.5"/>
<line x1="482.96" y1="211.07" x2="488.16" y2="211.07" stroke="#000" stroke-width="1.7"/>
<rect x="508.04" y="202.17" width="5.90" height="60.13" fill="#666666" stroke="#000" stroke-width="1.7"/>
<line x1="510.99" y1="202.17" x2="510.99" y2="185.60" stroke="#000" stroke-width="1.5"/>
<line x1="508.39" y1="186.40" x2="513.59" y2="186.40" stroke="#000" stroke-width="1.7"/>
<rect x="314.80" y="127.40" width="203.40" height="134.90" fill="none" stroke="#000" stroke-width="1.7"/>
<line x1="311.20" y1="262.30" x2="314.80" y2="262.30" stroke="#000" stroke-width="1.5"/>
<text x="311.10" y="266.60" font-size="11" text-anchor="end" font-weight="bold" >0</text>
<line x1="311.20" y1="223.76" x2="314.80" y2="223.76" stroke="#000" stroke-width="1.5"/>
<text x="311.10" y="228.06" font-size="11" text-anchor="end" font-weight="bold" >1</text>
<line x1="311.20" y1="185.21" x2="314.80" y2="185.21" stroke="#000" stroke-width="1.5"/>
<text x="311.10" y="189.51" font-size="11" text-anchor="end" font-weight="bold" >2</text>
<line x1="311.20" y1="146.67" x2="314.80" y2="146.67" stroke="#000" stroke-width="1.5"/>
<text x="311.10" y="150.97" font-size="11" text-anchor="end" font-weight="bold" >3</text>
<line x1="327.51" y1="262.30" x2="327.51" y2="266.50" stroke="#000" stroke-width="1.6"/>
<text transform="translate(330.51,276.10) rotate(-45)" font-size="10.5" font-weight="bold" text-anchor="end">0</text>
<line x1="352.94" y1="262.30" x2="352.94" y2="266.50" stroke="#000" stroke-width="1.6"/>
<text transform="translate(355.94,276.10) rotate(-45)" font-size="10.5" font-weight="bold" text-anchor="end">1</text>
<line x1="378.36" y1="262.30" x2="378.36" y2="266.50" stroke="#000" stroke-width="1.6"/>
<text transform="translate(381.36,276.10) rotate(-45)" font-size="10.5" font-weight="bold" text-anchor="end">5</text>
<line x1="403.79" y1="262.30" x2="403.79" y2="266.50" stroke="#000" stroke-width="1.6"/>
<text transform="translate(406.79,276.10) rotate(-45)" font-size="10.5" font-weight="bold" text-anchor="end">15</text>
<line x1="429.21" y1="262.30" x2="429.21" y2="266.50" stroke="#000" stroke-width="1.6"/>
<text transform="translate(432.21,276.10) rotate(-45)" font-size="10.5" font-weight="bold" text-anchor="end">30</text>
<line x1="454.64" y1="262.30" x2="454.64" y2="266.50" stroke="#000" stroke-width="1.6"/>
<text transform="translate(457.64,276.10) rotate(-45)" font-size="10.5" font-weight="bold" text-anchor="end">60</text>
<line x1="480.06" y1="262.30" x2="480.06" y2="266.50" stroke="#000" stroke-width="1.6"/>
<text transform="translate(483.06,276.10) rotate(-45)" font-size="10.5" font-weight="bold" text-anchor="end">90</text>
<line x1="505.49" y1="262.30" x2="505.49" y2="266.50" stroke="#000" stroke-width="1.6"/>
<text transform="translate(508.49,276.10) rotate(-45)" font-size="10.5" font-weight="bold" text-anchor="end">180</text>
<text x="416.50" y="301.60" font-size="10.8" text-anchor="middle" font-weight="bold" >Time (min)</text>
<text transform="translate(301.50,191.70) rotate(-90)" font-size="10.9" font-weight="bold" text-anchor="middle">pSer9-GSK3<tspan font-weight="normal">&#946;</tspan> (fold)</text>
<text x="321.90" y="144.60" font-size="11" text-anchor="start" font-weight="bold" >GSK3<tspan font-weight="normal">&#946;</tspan></text>
<rect x="323.85" y="151.65" width="10.20" height="8.10" fill="#dcdcdc" stroke="#000" stroke-width="1.7"/>
<rect x="323.85" y="167.25" width="10.20" height="7.90" fill="#666666" stroke="#000" stroke-width="1.7"/>
<text x="340.40" y="159.90" font-size="11" text-anchor="start" font-weight="bold" >TR47</text>
<text x="340.40" y="175.30" font-size="11" text-anchor="start" font-weight="bold" >scrTR47</text>
<rect x="30.69" y="439.00" width="11.70" height="27.00" fill="#dcdcdc" stroke="#000" stroke-width="1.7"/>
<rect x="49.96" y="427.93" width="11.70" height="38.07" fill="#dcdcdc" stroke="#000" stroke-width="1.7"/>
<line x1="55.81" y1="427.93" x2="55.81" y2="424.69" stroke="#000" stroke-width="1.5"/>
<line x1="53.21" y1="425.49" x2="58.41" y2="425.49" stroke="#000" stroke-width="1.7"/>
<rect x="69.23" y="423.61" width="11.70" height="42.39" fill="#dcdcdc" stroke="#000" stroke-width="1.7"/>
<line x1="75.08" y1="423.61" x2="75.08" y2="418.48" stroke="#000" stroke-width="1.5"/>
<line x1="72.48" y1="419.28" x2="77.68" y2="419.28" stroke="#000" stroke-width="1.7"/>
<rect x="88.50" y="389.86" width="11.70" height="76.14" fill="#dcdcdc" stroke="#000" stroke-width="1.7"/>
<line x1="94.35" y1="389.86" x2="94.35" y2="366.10" stroke="#000" stroke-width="1.5"/>
<line x1="91.75" y1="366.90" x2="96.95" y2="366.90" stroke="#000" stroke-width="1.7"/>
<rect x="107.77" y="367.72" width="11.70" height="98.28" fill="#dcdcdc" stroke="#000" stroke-width="1.7"/>
<line x1="113.62" y1="367.72" x2="113.62" y2="344.23" stroke="#000" stroke-width="1.5"/>
<line x1="111.02" y1="345.03" x2="116.22" y2="345.03" stroke="#000" stroke-width="1.7"/>
<rect x="127.04" y="364.48" width="11.70" height="101.52" fill="#dcdcdc" stroke="#000" stroke-width="1.7"/>
<line x1="132.89" y1="364.48" x2="132.89" y2="344.23" stroke="#000" stroke-width="1.5"/>
<line x1="130.29" y1="345.03" x2="135.49" y2="345.03" stroke="#000" stroke-width="1.7"/>
<rect x="146.31" y="364.75" width="11.70" height="101.25" fill="#dcdcdc" stroke="#000" stroke-width="1.7"/>
<line x1="152.16" y1="364.75" x2="152.16" y2="345.31" stroke="#000" stroke-width="1.5"/>
<line x1="149.56" y1="346.11" x2="154.76" y2="346.11" stroke="#000" stroke-width="1.7"/>
<rect x="26.90" y="331.00" width="134.90" height="135.00" fill="none" stroke="#000" stroke-width="1.7"/>
<line x1="23.30" y1="466.00" x2="26.90" y2="466.00" stroke="#000" stroke-width="1.5"/>
<text x="23.20" y="470.30" font-size="11" text-anchor="end" font-weight="bold" >0</text>
<line x1="23.30" y1="439.00" x2="26.90" y2="439.00" stroke="#000" stroke-width="1.5"/>
<text x="23.20" y="443.30" font-size="11" text-anchor="end" font-weight="bold" >1</text>
<line x1="23.30" y1="412.00" x2="26.90" y2="412.00" stroke="#000" stroke-width="1.5"/>
<text x="23.20" y="416.30" font-size="11" text-anchor="end" font-weight="bold" >2</text>
<line x1="23.30" y1="385.00" x2="26.90" y2="385.00" stroke="#000" stroke-width="1.5"/>
<text x="23.20" y="389.30" font-size="11" text-anchor="end" font-weight="bold" >3</text>
<line x1="23.30" y1="358.00" x2="26.90" y2="358.00" stroke="#000" stroke-width="1.5"/>
<text x="23.20" y="362.30" font-size="11" text-anchor="end" font-weight="bold" >4</text>
<line x1="23.30" y1="331.00" x2="26.90" y2="331.00" stroke="#000" stroke-width="1.5"/>
<text x="23.20" y="335.30" font-size="11" text-anchor="end" font-weight="bold" >5</text>
<line x1="36.54" y1="466.00" x2="36.54" y2="470.20" stroke="#000" stroke-width="1.6"/>
<text transform="translate(39.54,479.80) rotate(-45)" font-size="10.5" font-weight="bold" text-anchor="end">0</text>
<line x1="55.81" y1="466.00" x2="55.81" y2="470.20" stroke="#000" stroke-width="1.6"/>
<text transform="translate(58.81,479.80) rotate(-45)" font-size="10.5" font-weight="bold" text-anchor="end">0.08</text>
<line x1="75.08" y1="466.00" x2="75.08" y2="470.20" stroke="#000" stroke-width="1.6"/>
<text transform="translate(78.08,479.80) rotate(-45)" font-size="10.5" font-weight="bold" text-anchor="end">0.4</text>
<line x1="94.35" y1="466.00" x2="94.35" y2="470.20" stroke="#000" stroke-width="1.6"/>
<text transform="translate(97.35,479.80) rotate(-45)" font-size="10.5" font-weight="bold" text-anchor="end">2</text>
<line x1="113.62" y1="466.00" x2="113.62" y2="470.20" stroke="#000" stroke-width="1.6"/>
<text transform="translate(116.62,479.80) rotate(-45)" font-size="10.5" font-weight="bold" text-anchor="end">10</text>
<line x1="132.89" y1="466.00" x2="132.89" y2="470.20" stroke="#000" stroke-width="1.6"/>
<text transform="translate(135.89,479.80) rotate(-45)" font-size="10.5" font-weight="bold" text-anchor="end">50</text>
<line x1="152.16" y1="466.00" x2="152.16" y2="470.20" stroke="#000" stroke-width="1.6"/>
<text transform="translate(155.16,479.80) rotate(-45)" font-size="10.5" font-weight="bold" text-anchor="end">100</text>
<text x="94.35" y="508.20" font-size="10.8" text-anchor="middle" font-weight="bold" >TR47 (<tspan font-weight="normal">&#956;</tspan>M)</text>
<text transform="translate(11.70,395.70) rotate(-90)" font-size="10.9" font-weight="bold" text-anchor="middle">pSer473-Akt (fold)</text>
<text x="33.20" y="347.40" font-size="10.2" text-anchor="start" font-weight="bold" >Akt</text>
<rect x="211.93" y="421.10" width="6.00" height="45.20" fill="#dcdcdc" stroke="#000" stroke-width="1.7"/>
<rect x="239.09" y="424.72" width="6.00" height="41.58" fill="#dcdcdc" stroke="#000" stroke-width="1.7"/>
<rect x="266.25" y="420.20" width="6.00" height="46.10" fill="#dcdcdc" stroke="#000" stroke-width="1.7"/>
<line x1="269.25" y1="420.20" x2="269.25" y2="412.51" stroke="#000" stroke-width="1.5"/>
<line x1="266.65" y1="413.31" x2="271.85" y2="413.31" stroke="#000" stroke-width="1.7"/>
<rect x="293.41" y="371.83" width="6.00" height="94.47" fill="#dcdcdc" stroke="#000" stroke-width="1.7"/>
<line x1="296.41" y1="371.83" x2="296.41" y2="346.52" stroke="#000" stroke-width="1.5"/>
<line x1="293.81" y1="347.32" x2="299.01" y2="347.32" stroke="#000" stroke-width="1.7"/>
<rect x="320.57" y="390.82" width="6.00" height="75.48" fill="#dcdcdc" stroke="#000" stroke-width="1.7"/>
<line x1="323.57" y1="390.82" x2="323.57" y2="375.00" stroke="#000" stroke-width="1.5"/>
<line x1="320.97" y1="375.80" x2="326.17" y2="375.80" stroke="#000" stroke-width="1.7"/>
<rect x="222.13" y="421.10" width="6.00" height="45.20" fill="#666666" stroke="#000" stroke-width="1.7"/>
<rect x="249.29" y="426.52" width="6.00" height="39.78" fill="#666666" stroke="#000" stroke-width="1.7"/>
<line x1="252.29" y1="426.52" x2="252.29" y2="423.81" stroke="#000" stroke-width="1.5"/>
<line x1="249.69" y1="424.61" x2="254.89" y2="424.61" stroke="#000" stroke-width="1.7"/>
<rect x="276.45" y="436.47" width="6.00" height="29.83" fill="#666666" stroke="#000" stroke-width="1.7"/>
<line x1="279.45" y1="436.47" x2="279.45" y2="426.98" stroke="#000" stroke-width="1.5"/>
<line x1="276.85" y1="427.78" x2="282.05" y2="427.78" stroke="#000" stroke-width="1.7"/>
<rect x="303.61" y="428.78" width="6.00" height="37.52" fill="#666666" stroke="#000" stroke-width="1.7"/>
<line x1="306.61" y1="428.78" x2="306.61" y2="423.36" stroke="#000" stroke-width="1.5"/>
<line x1="304.01" y1="424.16" x2="309.21" y2="424.16" stroke="#000" stroke-width="1.7"/>
<rect x="330.77" y="397.14" width="6.00" height="69.16" fill="#666666" stroke="#000" stroke-width="1.7"/>
<rect x="206.50" y="330.70" width="135.80" height="135.60" fill="none" stroke="#000" stroke-width="1.7"/>
<line x1="202.90" y1="466.30" x2="206.50" y2="466.30" stroke="#000" stroke-width="1.5"/>
<text x="202.80" y="470.60" font-size="11" text-anchor="end" font-weight="bold" >0</text>
<line x1="202.90" y1="421.10" x2="206.50" y2="421.10" stroke="#000" stroke-width="1.5"/>
<text x="202.80" y="425.40" font-size="11" text-anchor="end" font-weight="bold" >1</text>
<line x1="202.90" y1="375.90" x2="206.50" y2="375.90" stroke="#000" stroke-width="1.5"/>
<text x="202.80" y="380.20" font-size="11" text-anchor="end" font-weight="bold" >2</text>
<line x1="202.90" y1="330.70" x2="206.50" y2="330.70" stroke="#000" stroke-width="1.5"/>
<text x="202.80" y="335.00" font-size="11" text-anchor="end" font-weight="bold" >3</text>
<line x1="220.08" y1="466.30" x2="220.08" y2="470.50" stroke="#000" stroke-width="1.6"/>
<text transform="translate(223.08,480.10) rotate(-45)" font-size="10.5" font-weight="bold" text-anchor="end">0</text>
<line x1="247.24" y1="466.30" x2="247.24" y2="470.50" stroke="#000" stroke-width="1.6"/>
<text transform="translate(250.24,480.10) rotate(-45)" font-size="10.5" font-weight="bold" text-anchor="end">1</text>
<line x1="274.40" y1="466.30" x2="274.40" y2="470.50" stroke="#000" stroke-width="1.6"/>
<text transform="translate(277.40,480.10) rotate(-45)" font-size="10.5" font-weight="bold" text-anchor="end">15</text>
<line x1="301.56" y1="466.30" x2="301.56" y2="470.50" stroke="#000" stroke-width="1.6"/>
<text transform="translate(304.56,480.10) rotate(-45)" font-size="10.5" font-weight="bold" text-anchor="end">60</text>
<line x1="328.72" y1="466.30" x2="328.72" y2="470.50" stroke="#000" stroke-width="1.6"/>
<text transform="translate(331.72,480.10) rotate(-45)" font-size="10.5" font-weight="bold" text-anchor="end">180</text>
<text x="274.40" y="505.10" font-size="10.8" text-anchor="middle" font-weight="bold" >Time (min)</text>
<text transform="translate(191.80,396.00) rotate(-90)" font-size="10.9" font-weight="bold" text-anchor="middle">pSer473-Akt (fold)</text>
<text x="213.40" y="347.30" font-size="10.2" text-anchor="start" font-weight="bold" >Akt</text>
<rect x="215.05" y="354.35" width="9.50" height="8.80" fill="#dcdcdc" stroke="#000" stroke-width="1.7"/>
<rect x="215.05" y="369.35" width="9.50" height="8.70" fill="#666666" stroke="#000" stroke-width="1.7"/>
<text x="231.80" y="362.40" font-size="10.6" text-anchor="start" font-weight="bold" >vehicle</text>
<text x="231.80" y="378.20" font-size="10.6" text-anchor="start" font-weight="bold" >SCH79797</text>
<rect x="388.21" y="421.17" width="6.00" height="45.13" fill="#dcdcdc" stroke="#000" stroke-width="1.7"/>
<rect x="415.33" y="415.30" width="6.00" height="51.00" fill="#dcdcdc" stroke="#000" stroke-width="1.7"/>
<line x1="418.33" y1="415.30" x2="418.33" y2="403.56" stroke="#000" stroke-width="1.5"/>
<line x1="415.73" y1="404.36" x2="420.93" y2="404.36" stroke="#000" stroke-width="1.7"/>
<rect x="442.45" y="405.37" width="6.00" height="60.93" fill="#dcdcdc" stroke="#000" stroke-width="1.7"/>
<line x1="445.45" y1="405.37" x2="445.45" y2="397.25" stroke="#000" stroke-width="1.5"/>
<line x1="442.85" y1="398.05" x2="448.05" y2="398.05" stroke="#000" stroke-width="1.7"/>
<rect x="469.57" y="368.36" width="6.00" height="97.94" fill="#dcdcdc" stroke="#000" stroke-width="1.7"/>
<line x1="472.57" y1="368.36" x2="472.57" y2="351.21" stroke="#000" stroke-width="1.5"/>
<line x1="469.97" y1="352.01" x2="475.17" y2="352.01" stroke="#000" stroke-width="1.7"/>
<rect x="496.69" y="403.11" width="6.00" height="63.19" fill="#dcdcdc" stroke="#000" stroke-width="1.7"/>
<line x1="499.69" y1="403.11" x2="499.69" y2="390.93" stroke="#000" stroke-width="1.5"/>
<line x1="497.09" y1="391.73" x2="502.29" y2="391.73" stroke="#000" stroke-width="1.7"/>
<rect x="398.41" y="421.17" width="6.00" height="45.13" fill="#666666" stroke="#000" stroke-width="1.7"/>
<rect x="425.53" y="430.19" width="6.00" height="36.11" fill="#666666" stroke="#000" stroke-width="1.7"/>
<line x1="428.53" y1="430.19" x2="428.53" y2="427.94" stroke="#000" stroke-width="1.5"/>
<line x1="425.93" y1="428.74" x2="431.13" y2="428.74" stroke="#000" stroke-width="1.7"/>
<rect x="452.65" y="419.36" width="6.00" height="46.94" fill="#666666" stroke="#000" stroke-width="1.7"/>
<line x1="455.65" y1="419.36" x2="455.65" y2="416.65" stroke="#000" stroke-width="1.5"/>
<line x1="453.05" y1="417.45" x2="458.25" y2="417.45" stroke="#000" stroke-width="1.7"/>
<rect x="479.77" y="425.68" width="6.00" height="40.62" fill="#666666" stroke="#000" stroke-width="1.7"/>
<line x1="482.77" y1="425.68" x2="482.77" y2="422.07" stroke="#000" stroke-width="1.5"/>
<line x1="480.17" y1="422.87" x2="485.37" y2="422.87" stroke="#000" stroke-width="1.7"/>
<rect x="506.89" y="440.57" width="6.00" height="25.73" fill="#666666" stroke="#000" stroke-width="1.7"/>
<line x1="509.89" y1="440.57" x2="509.89" y2="434.71" stroke="#000" stroke-width="1.5"/>
<line x1="507.29" y1="435.51" x2="512.49" y2="435.51" stroke="#000" stroke-width="1.7"/>
<rect x="382.80" y="330.90" width="135.60" height="135.40" fill="none" stroke="#000" stroke-width="1.7"/>
<line x1="379.20" y1="466.30" x2="382.80" y2="466.30" stroke="#000" stroke-width="1.5"/>
<text x="379.10" y="470.60" font-size="11" text-anchor="end" font-weight="bold" >0</text>
<line x1="379.20" y1="421.17" x2="382.80" y2="421.17" stroke="#000" stroke-width="1.5"/>
<text x="379.10" y="425.47" font-size="11" text-anchor="end" font-weight="bold" >1</text>
<line x1="379.20" y1="376.03" x2="382.80" y2="376.03" stroke="#000" stroke-width="1.5"/>
<text x="379.10" y="380.33" font-size="11" text-anchor="end" font-weight="bold" >2</text>
<line x1="379.20" y1="330.90" x2="382.80" y2="330.90" stroke="#000" stroke-width="1.5"/>
<text x="379.10" y="335.20" font-size="11" text-anchor="end" font-weight="bold" >3</text>
<line x1="396.36" y1="466.30" x2="396.36" y2="470.50" stroke="#000" stroke-width="1.6"/>
<text transform="translate(399.36,480.10) rotate(-45)" font-size="10.5" font-weight="bold" text-anchor="end">0</text>
<line x1="423.48" y1="466.30" x2="423.48" y2="470.50" stroke="#000" stroke-width="1.6"/>
<text transform="translate(426.48,480.10) rotate(-45)" font-size="10.5" font-weight="bold" text-anchor="end">1</text>
<line x1="450.60" y1="466.30" x2="450.60" y2="470.50" stroke="#000" stroke-width="1.6"/>
<text transform="translate(453.60,480.10) rotate(-45)" font-size="10.5" font-weight="bold" text-anchor="end">15</text>
<line x1="477.72" y1="466.30" x2="477.72" y2="470.50" stroke="#000" stroke-width="1.6"/>
<text transform="translate(480.72,480.10) rotate(-45)" font-size="10.5" font-weight="bold" text-anchor="end">60</text>
<line x1="504.84" y1="466.30" x2="504.84" y2="470.50" stroke="#000" stroke-width="1.6"/>
<text transform="translate(507.84,480.10) rotate(-45)" font-size="10.5" font-weight="bold" text-anchor="end">180</text>
<text x="450.60" y="505.10" font-size="10.8" text-anchor="middle" font-weight="bold" >Time (min)</text>
<text transform="translate(368.00,396.00) rotate(-90)" font-size="10.9" font-weight="bold" text-anchor="middle">pSer9-GSK<tspan font-weight="normal">&#946;</tspan> (fold)</text>
<text x="389.80" y="347.80" font-size="11" text-anchor="start" font-weight="bold" >GSK3<tspan font-weight="normal">&#946;</tspan></text>
<rect x="391.35" y="355.15" width="10.60" height="8.80" fill="#dcdcdc" stroke="#000" stroke-width="1.7"/>
<rect x="391.35" y="370.55" width="10.60" height="8.60" fill="#666666" stroke="#000" stroke-width="1.7"/>
<text x="408.30" y="363.90" font-size="10.6" text-anchor="start" font-weight="bold" >vehicle</text>
<text x="408.30" y="379.00" font-size="10.6" text-anchor="start" font-weight="bold" >SCH79797</text>
</svg>
</body></html>
